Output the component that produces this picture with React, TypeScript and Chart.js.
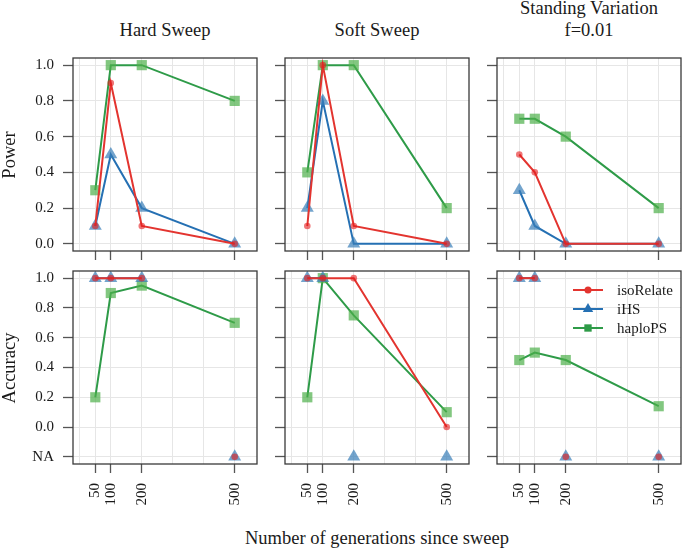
import React, { useEffect, useRef } from 'react';
import { Chart, registerables } from 'chart.js';

Chart.register(...registerables);

// ---------------- data ----------------
const generations = [50, 100, 200, 500];
const xTickLabels = ['50', '100', '200', '500'];
const xGridValues = [0, 50, 100, 200, 300, 400, 500];

const powerTickValues = [0, 0.2, 0.4, 0.6, 0.8, 1.0];
const powerTickLabels = ['0.0', '0.2', '0.4', '0.6', '0.8', '1.0'];
const NA_POSITION = -0.2;
const accuracyTickValues = [NA_POSITION, 0, 0.2, 0.4, 0.6, 0.8, 1.0];
const accuracyTickLabels = ['NA', '0.0', '0.2', '0.4', '0.6', '0.8', '1.0'];

const panelTitles = [['Hard Sweep'], ['Soft Sweep'], ['Standing Variation', 'f=0.01']];
const rowTitles = ['Power', 'Accuracy'];
const xAxisTitle = 'Number of generations since sweep';
const methods = ['isoRelate', 'iHS', 'haploPS'];

// Power
const hardPowerIsoRelate = [0.1, 0.9, 0.1, 0.0];
const hardPowerIHS = [0.1, 0.5, 0.2, 0.0];
const hardPowerHaploPS = [0.3, 1.0, 1.0, 0.8];
const softPowerIsoRelate = [0.1, 1.0, 0.1, 0.0];
const softPowerIHS = [0.2, 0.8, 0.0, 0.0];
const softPowerHaploPS = [0.4, 1.0, 1.0, 0.2];
const standingPowerIsoRelate = [0.5, 0.4, 0.0, 0.0];
const standingPowerIHS = [0.3, 0.1, 0.0, 0.0];
const standingPowerHaploPS = [0.7, 0.7, 0.6, 0.2];

// Accuracy (null = NA)
const hardAccIsoRelate = [1.0, 1.0, 1.0, null];
const hardAccIHS = [1.0, 1.0, 1.0, null];
const hardAccHaploPS = [0.2, 0.9, 0.95, 0.7];
const softAccIsoRelate = [1.0, 1.0, 1.0, 0.0];
const softAccIHS = [1.0, 1.0, null, null];
const softAccHaploPS = [0.2, 1.0, 0.75, 0.1];
const standingAccIsoRelate = [1.0, 1.0, null, null];
const standingAccIHS = [1.0, 1.0, null, null];
const standingAccHaploPS = [0.45, 0.5, 0.45, 0.14];

const panelSeries: (number | null)[][][] = [
  [hardPowerIsoRelate, hardPowerIHS, hardPowerHaploPS],
  [softPowerIsoRelate, softPowerIHS, softPowerHaploPS],
  [standingPowerIsoRelate, standingPowerIHS, standingPowerHaploPS],
  [hardAccIsoRelate, hardAccIHS, hardAccHaploPS],
  [softAccIsoRelate, softAccIHS, softAccHaploPS],
  [standingAccIsoRelate, standingAccIHS, standingAccHaploPS],
];

// ---------------- styles ----------------
const FONT = '"Liberation Serif", "Times New Roman", serif';
const COL_LEFT = [73, 285, 497];
const ROW_TOP = [58, 271];
const BOX_W = 184;
const BOX_H = 193;
const PAD = 2;
const GRID = '#e6e6e6';
const TICK = '#555555';
const FRAME = '#3a3a3a';
const TEXT = '#1a1a1a';

const LINE_COLORS = ['#E3342F', '#2570B3', '#2E9B48'];
const POINT_COLORS = ['rgba(228,26,28,0.6)', 'rgba(55,126,184,0.7)', 'rgba(77,175,74,0.7)'];
const POINT_STYLES = ['circle', 'triangle', 'rect'];
const POINT_RADII = [3.3, 7.5, 7.2];

const framePlugin = {
  id: 'frame',
  afterDraw(chart: any) {
    const { ctx, chartArea: a } = chart;
    ctx.save();
    ctx.strokeStyle = FRAME;
    ctx.lineWidth = 1.3;
    ctx.strokeRect(a.left, a.top, a.right - a.left, a.bottom - a.top);
    ctx.restore();
  },
};

function drawMarker(ctx: CanvasRenderingContext2D, style: string, r: number, x: number, y: number) {
  ctx.beginPath();
  if (style === 'circle') {
    ctx.arc(x, y, r, 0, Math.PI * 2);
  } else if (style === 'triangle') {
    ctx.moveTo(x, y - r);
    ctx.lineTo(x + (r * Math.sqrt(3)) / 2, y + r / 2);
    ctx.lineTo(x - (r * Math.sqrt(3)) / 2, y + r / 2);
    ctx.closePath();
  } else {
    const s = r * Math.SQRT1_2;
    ctx.rect(x - s, y - s, 2 * s, 2 * s);
  }
  ctx.fill();
}

const legendPlugin = {
  id: 'insideLegend',
  afterDraw(chart: any) {
    const { ctx, chartArea: a } = chart;
    ctx.save();
    methods.forEach((name, i) => {
      const y = a.top + 19 + i * 19;
      const x0 = a.left + 76;
      const x1 = a.left + 106;
      ctx.strokeStyle = LINE_COLORS[i];
      ctx.lineWidth = 2;
      ctx.beginPath();
      ctx.moveTo(x0, y);
      ctx.lineTo(x1, y);
      ctx.stroke();
      ctx.fillStyle = LINE_COLORS[i];
      drawMarker(ctx, POINT_STYLES[i], [3.5, 6, 5.2][i], (x0 + x1) / 2, y);
      ctx.fillStyle = TEXT;
      ctx.font = `15px ${FONT}`;
      ctx.textBaseline = 'middle';
      ctx.textAlign = 'left';
      ctx.fillText(name, a.left + 120, y + 1);
    });
    ctx.restore();
  },
};

function panelGeometry(index: number) {
  const row = Math.floor(index / 3);
  const col = index % 3;
  const leftAx = col === 0 ? 73 : 12;
  const bottomAx = row === 0 ? 12 : 62;
  return {
    row,
    col,
    leftAx,
    bottomAx,
    left: COL_LEFT[col] - leftAx,
    top: ROW_TOP[row] - PAD,
    width: leftAx + BOX_W + PAD,
    height: PAD + BOX_H + bottomAx,
  };
}

function zeroPadding(s: any) {
  s.paddingTop = 0;
  s.paddingBottom = 0;
  s.paddingLeft = 0;
  s.paddingRight = 0;
}

function buildConfig(index: number) {
  const g = panelGeometry(index);
  const isTop = g.row === 0;
  const series = panelSeries[index];
  const tickValues = isTop ? powerTickValues : accuracyTickValues;
  const tickLabels = isTop ? powerTickLabels : accuracyTickLabels;
  const datasets = series.map((vals, m) => ({
    label: methods[m],
    data: generations.map((x, i) => ({ x, y: vals[i] === null ? NA_POSITION : vals[i] })),
    borderColor: LINE_COLORS[m],
    borderWidth: 2,
    backgroundColor: POINT_COLORS[m],
    pointBackgroundColor: POINT_COLORS[m],
    pointBorderWidth: 0,
    pointBorderColor: 'rgba(0,0,0,0)',
    pointStyle: POINT_STYLES[m],
    pointRadius: POINT_RADII[m],
    tension: 0,
    fill: false,
    segment: {
      borderColor: (ctx: any) =>
        vals[ctx.p0DataIndex] === null || vals[ctx.p1DataIndex] === null ? 'rgba(0,0,0,0)' : LINE_COLORS[m],
    },
  }));
  const plugins: any[] = [framePlugin];
  if (index === 5) plugins.push(legendPlugin);
  return {
    type: 'line' as const,
    data: { datasets },
    options: {
      responsive: false,
      maintainAspectRatio: false,
      animation: false,
      events: [],
      layout: { padding: { top: PAD, right: PAD, left: 0, bottom: 0 }, autoPadding: false },
      plugins: { legend: { display: false }, tooltip: { enabled: false }, title: { display: false } },
      scales: {
        x: {
          type: 'linear',
          position: 'bottom',
          min: -22,
          max: 572,
          afterBuildTicks: (s: any) => {
            s.ticks = xGridValues.map((v) => ({ value: v }));
          },
          afterFit: (s: any) => {
            s.height = g.bottomAx;
            zeroPadding(s);
          },
          border: { display: false },
          grid: {
            color: GRID,
            lineWidth: 1,
            drawTicks: true,
            tickLength: 9,
            tickWidth: 1.3,
            tickColor: (c: any) => (c.tick && generations.includes(c.tick.value) ? TICK : 'rgba(0,0,0,0)'),
          },
          ticks: {
            display: !isTop,
            autoSkip: false,
            minRotation: 90,
            maxRotation: 90,
            padding: 10,
            color: TEXT,
            font: { family: FONT, size: 15 },
            callback: (v: any) => {
              const i = generations.indexOf(v);
              return i >= 0 ? xTickLabels[i] : '';
            },
          },
        },
        y: {
          type: 'linear',
          position: 'left',
          min: isTop ? -0.04 : -0.248,
          max: isTop ? 1.04 : 1.048,
          afterBuildTicks: (s: any) => {
            s.ticks = tickValues.map((v) => ({ value: v }));
          },
          afterFit: (s: any) => {
            s.width = g.leftAx;
            zeroPadding(s);
          },
          border: { display: false },
          grid: {
            color: GRID,
            lineWidth: 1,
            drawTicks: true,
            tickLength: 10,
            tickWidth: 1.3,
            tickColor: TICK,
          },
          ticks: {
            display: g.col === 0,
            padding: 9,
            color: TEXT,
            font: { family: FONT, size: 15 },
            callback: (v: any) => {
              const i = tickValues.findIndex((t) => Math.abs(t - v) < 1e-9);
              return i >= 0 ? tickLabels[i] : '';
            },
          },
        },
      },
    },
    plugins,
  };
}

export default function App() {
  const refs = useRef<(HTMLCanvasElement | null)[]>([]);

  useEffect(() => {
    document.body.style.margin = '0';
    const charts = refs.current.map((cv, i) => (cv ? new Chart(cv, buildConfig(i) as any) : null));
    return () => {
      charts.forEach((c) => c && c.destroy());
    };
  }, []);

  const titleSize = 18.5;
  const lineH = 22;
  const baselineOffset = (lineH - 1.107 * titleSize) / 2 + 0.891 * titleSize;

  return (
    <div style={{ position: 'absolute', left: 0, top: 0, width: 683, height: 550, background: '#fff', overflow: 'hidden', fontFamily: FONT, color: TEXT }}>
      {panelSeries.map((_, i) => {
        const g = panelGeometry(i);
        return (
          <canvas
            key={i}
            ref={(el) => {
              refs.current[i] = el;
            }}
            width={g.width}
            height={g.height}
            style={{ position: 'absolute', left: g.left, top: g.top, width: g.width, height: g.height }}
          />
        );
      })}
      {panelTitles.map((lines, c) => (
        <div
          key={'t' + c}
          style={{
            position: 'absolute',
            left: COL_LEFT[c],
            width: BOX_W,
            top: 36 - baselineOffset - lineH * (lines.length - 1),
            textAlign: 'center',
            fontSize: titleSize,
            lineHeight: lineH + 'px',
            whiteSpace: 'nowrap',
          }}
        >
          {lines.map((l, k) => (
            <div key={k}>{l}</div>
          ))}
        </div>
      ))}
      {rowTitles.map((t, r) => (
        <div
          key={'r' + r}
          style={{
            position: 'absolute',
            left: 8.5,
            top: ROW_TOP[r] + BOX_H / 2,
            transform: 'translate(-50%, -50%) rotate(-90deg)',
            fontSize: titleSize,
            lineHeight: lineH + 'px',
            whiteSpace: 'nowrap',
          }}
        >
          {t}
        </div>
      ))}
      <div
        style={{
          position: 'absolute',
          left: COL_LEFT[0],
          width: COL_LEFT[2] + BOX_W - COL_LEFT[0],
          top: 544 - baselineOffset,
          textAlign: 'center',
          fontSize: titleSize,
          lineHeight: lineH + 'px',
          whiteSpace: 'nowrap',
        }}
      >
        {xAxisTitle}
      </div>
    </div>
  );
}
